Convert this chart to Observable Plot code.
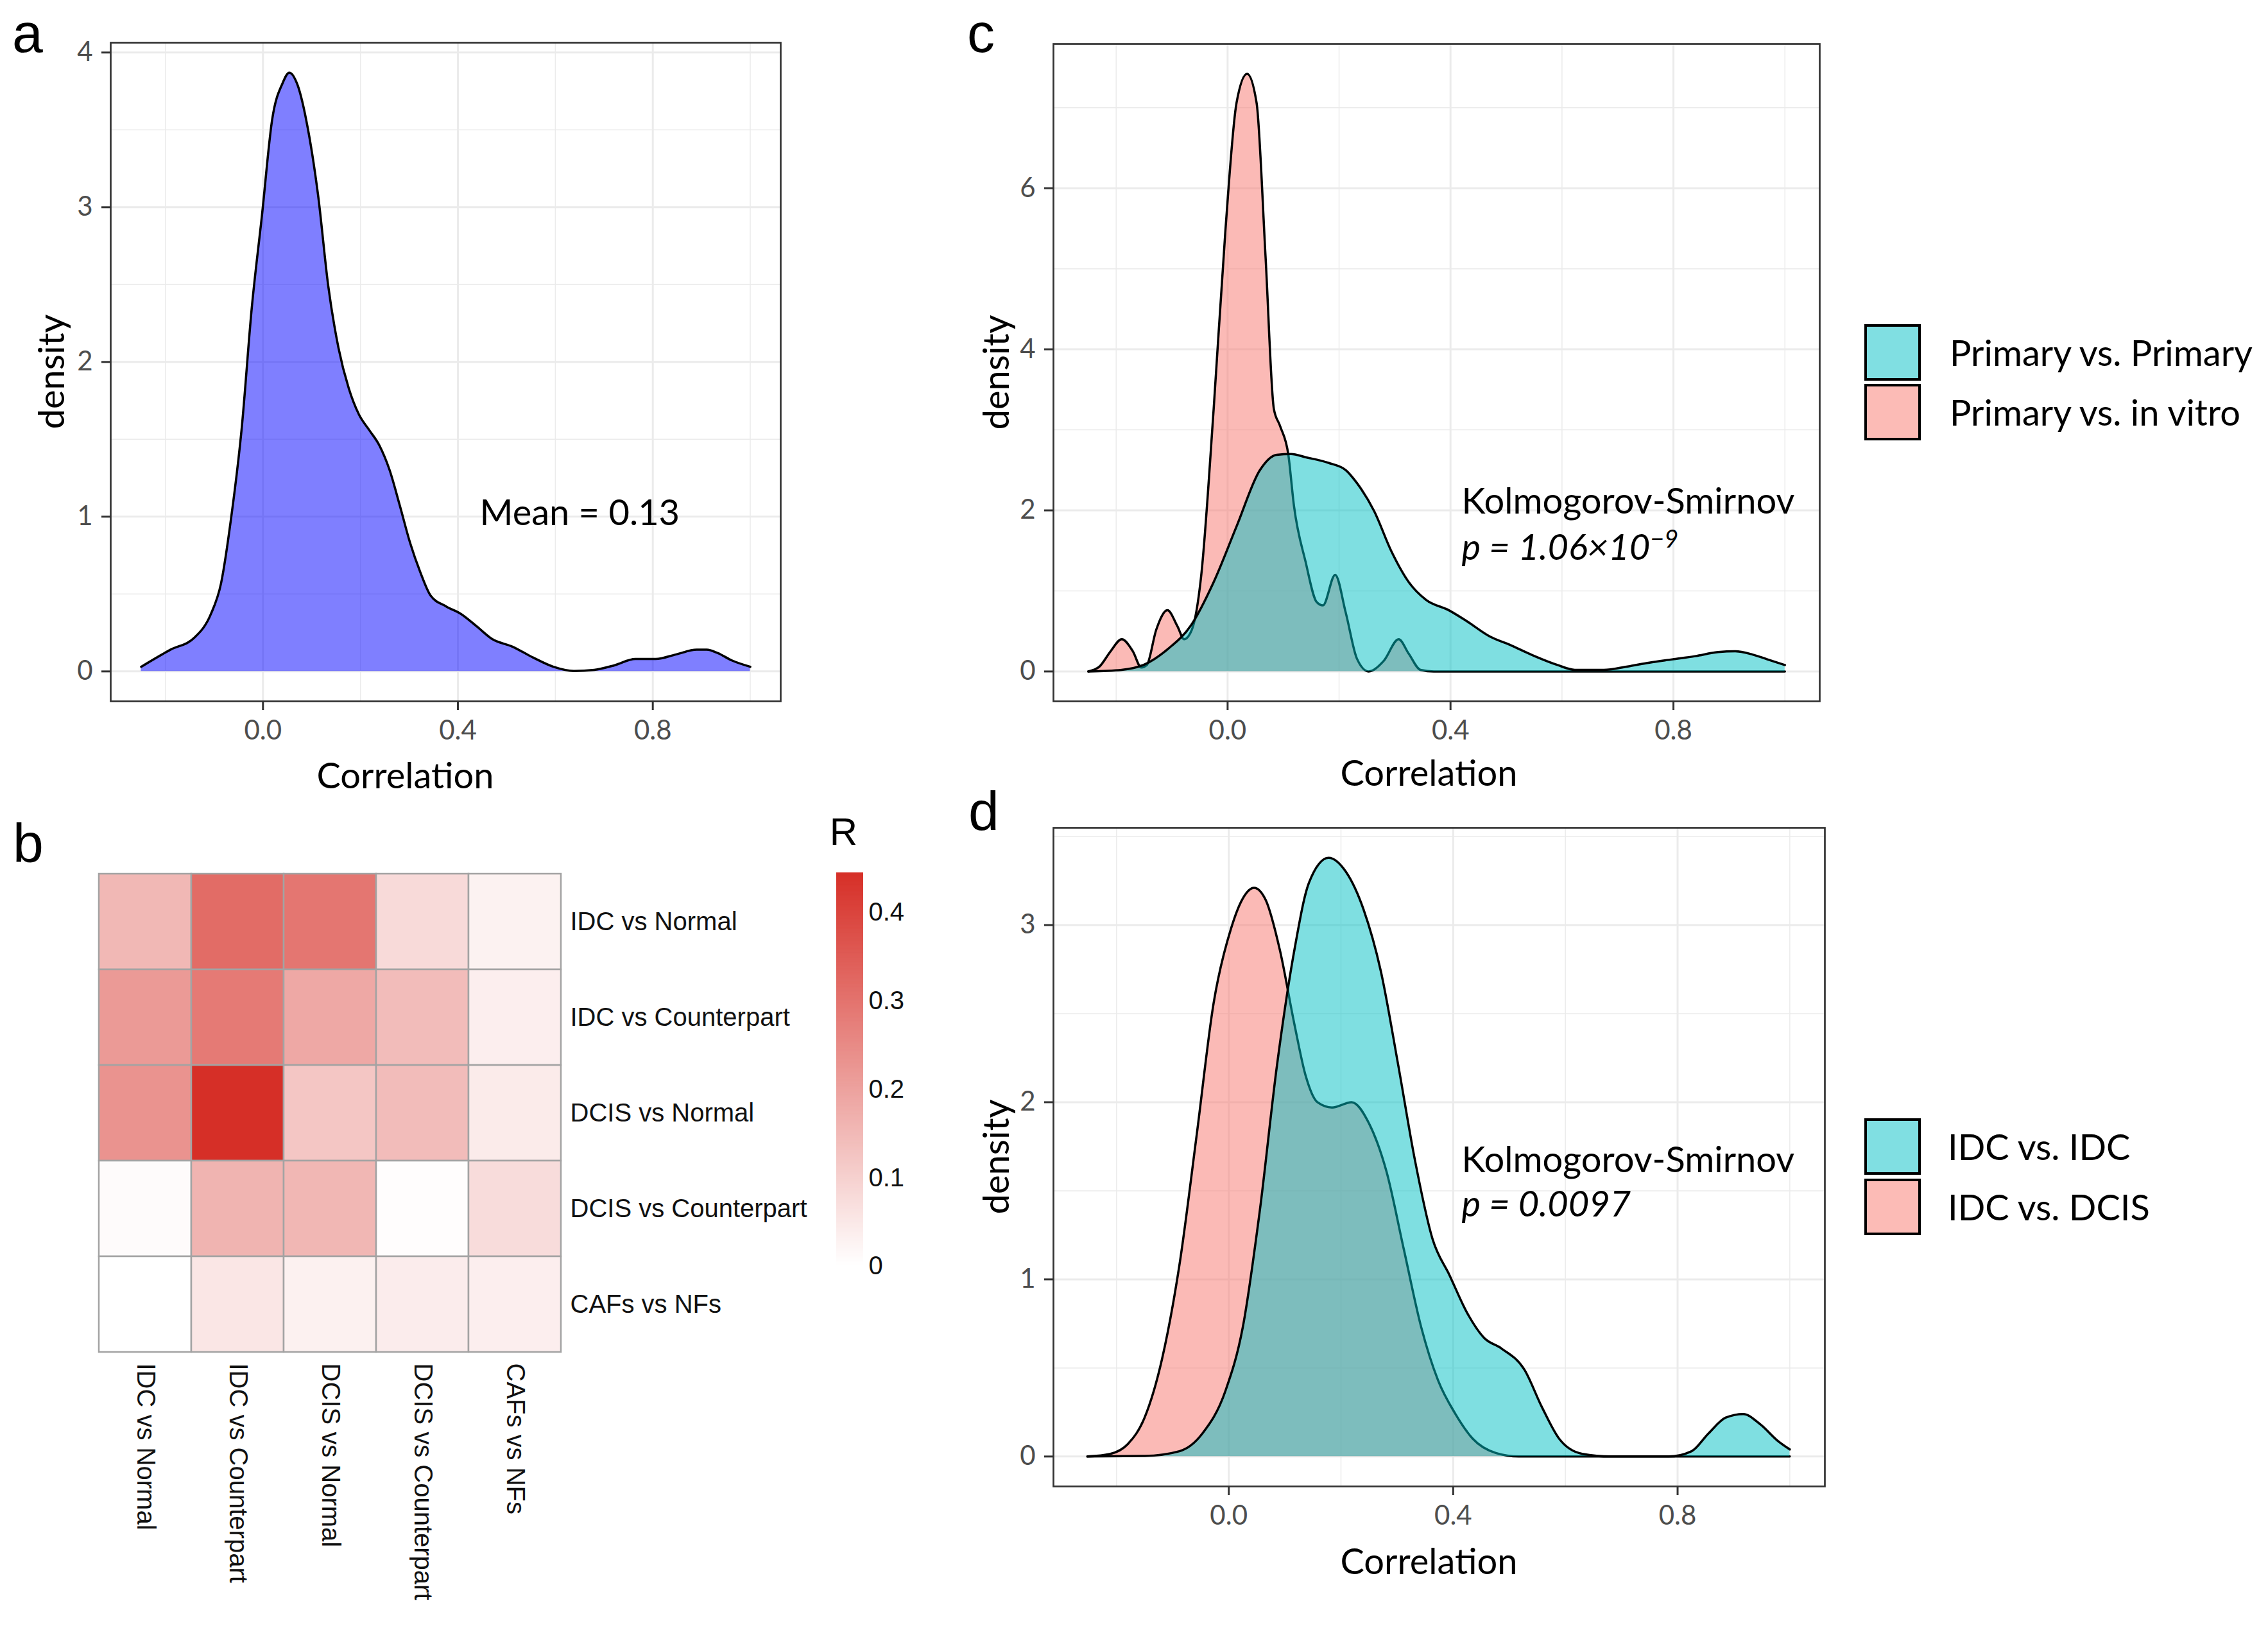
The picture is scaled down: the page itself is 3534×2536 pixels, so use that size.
<!DOCTYPE html>
<html><head><meta charset="utf-8">
<script src="https://cdn.jsdelivr.net/npm/d3@7"></script>
<script src="https://cdn.jsdelivr.net/npm/@observablehq/plot@0.6"></script>
<style>
html,body{margin:0;padding:0;background:#fff;}
#root{position:relative;width:3534px;height:2536px;background:#fff;overflow:hidden;font-family:Lato,sans-serif;}
#root svg{position:absolute;overflow:visible;max-width:none;background:transparent;}
.tag{position:absolute;font-family:"Liberation Sans",Arial,sans-serif;font-size:86px;line-height:normal;color:#000;}
.key{position:absolute;box-sizing:border-box;border:4px solid #000;width:88px;height:88px;}
.ltxt{position:absolute;font-family:Lato,sans-serif;font-size:56px;line-height:1;transform:translateY(-50%);white-space:nowrap;color:#000;}
.ytitle{position:absolute;font-family:Lato,sans-serif;font-size:56px;line-height:1;white-space:nowrap;color:#000;transform:translate(-50%,-50%) rotate(-90deg);}
</style></head><body><div id="root"></div>
<script>
// ---------- DATA ----------
// Panel a: density of all correlations
const xA = [-0.25,-0.19,-0.14,-0.107,-0.086,-0.065,-0.044,-0.023,-0.002,0.019,0.04,0.054,0.071,0.092,0.113,0.134,0.155,0.176,0.197,0.218,0.239,0.26,0.281,0.302,0.323,0.344,0.376,0.407,0.439,0.47,0.512,0.554,0.596,0.638,0.68,0.722,0.764,0.806,0.848,0.89,0.911,0.932,0.963,1.0];
const densA = [0.03,0.14,0.22,0.37,0.57,1.0,1.56,2.35,2.95,3.57,3.8,3.87,3.79,3.51,3.08,2.49,2.09,1.83,1.66,1.56,1.46,1.30,1.07,0.83,0.64,0.49,0.42,0.37,0.29,0.21,0.16,0.09,0.03,0.003,0.01,0.04,0.08,0.08,0.11,0.14,0.14,0.12,0.07,0.03];

// Panel c: Primary vs. in vitro (pink)
const xInVitro = [-0.25,-0.23,-0.21,-0.19,-0.17,-0.155,-0.145,-0.128,-0.108,-0.09,-0.078,-0.064,-0.048,-0.025,-0.004,0.016,0.035,0.052,0.068,0.083,0.094,0.109,0.119,0.14,0.16,0.171,0.193,0.212,0.232,0.253,0.28,0.307,0.325,0.346,0.37,0.6,1.0];
const densInVitro = [0,0.06,0.25,0.40,0.25,0.05,0.08,0.52,0.76,0.56,0.40,0.52,1.15,3.26,5.47,7.06,7.42,7.06,5.16,3.26,3.05,2.69,2.06,1.36,0.86,0.82,1.2,0.73,0.16,0,0.13,0.40,0.22,0.02,0,0,0];
// Panel c: Primary vs. Primary (cyan)
const xPrimary = [-0.25,-0.19,-0.148,-0.107,-0.066,-0.025,0.016,0.058,0.088,0.114,0.14,0.181,0.212,0.232,0.263,0.294,0.325,0.356,0.397,0.428,0.469,0.51,0.551,0.592,0.623,0.675,0.716,0.757,0.798,0.839,0.88,0.911,0.942,0.973,1.0];
const densPrimary = [0,0.02,0.09,0.28,0.57,1.11,1.8,2.5,2.69,2.70,2.66,2.59,2.5,2.34,1.99,1.49,1.11,0.89,0.76,0.63,0.44,0.32,0.19,0.08,0.02,0.02,0.06,0.11,0.15,0.19,0.24,0.25,0.21,0.14,0.08];

// Panel d: IDC vs. DCIS (pink)
const xIdcDcis = [-0.252,-0.211,-0.18,-0.15,-0.119,-0.088,-0.057,-0.027,0.004,0.025,0.045,0.066,0.091,0.117,0.137,0.158,0.184,0.219,0.25,0.281,0.312,0.343,0.373,0.404,0.435,0.476,0.517,0.7,1.0];
const densIdcDcis = [0,0.015,0.07,0.22,0.55,1.08,1.82,2.56,2.98,3.15,3.21,3.14,2.86,2.44,2.15,2.0,1.97,2.0,1.88,1.61,1.17,0.73,0.43,0.24,0.10,0.02,0,0,0];
// Panel d: IDC vs. IDC (cyan)
const xIdcIdc = [-0.252,-0.15,-0.088,-0.047,-0.006,0.025,0.055,0.086,0.117,0.143,0.178,0.209,0.24,0.271,0.302,0.332,0.363,0.394,0.425,0.455,0.486,0.527,0.558,0.589,0.63,0.681,0.784,0.825,0.855,0.886,0.917,0.948,0.978,1.0];
const densIdcIdc = [0,0.003,0.03,0.13,0.37,0.73,1.38,2.21,2.86,3.24,3.38,3.30,3.09,2.74,2.21,1.67,1.23,1.02,0.81,0.67,0.61,0.49,0.28,0.10,0.015,0,0,0.03,0.13,0.22,0.24,0.18,0.09,0.04];

// Panel b: heatmap
const hmRows = ["IDC vs Normal","IDC vs Counterpart","DCIS vs Normal","DCIS vs Counterpart","CAFs vs NFs"];
const hmCols = ["IDC vs Normal","IDC vs Counterpart","DCIS vs Normal","DCIS vs Counterpart","CAFs vs NFs"];
const hmValues = [
  [0.152,0.315,0.293,0.079,0.028],
  [0.216,0.285,0.186,0.143,0.036],
  [0.231,0.445,0.122,0.143,0.043],
  [0.008,0.160,0.155,0.005,0.075],
  [0.000,0.053,0.030,0.040,0.036]
];
const rTicks = [0,0.1,0.2,0.3,0.4];

// Axis ticks
const xMajor = [0,0.4,0.8];
const xMinor = [-0.2,0.2,0.6,1.0];
const yMajorA = [0,1,2,3,4], yMinorA = [0.5,1.5,2.5,3.5];
const yMajorC = [0,2,4,6],   yMinorC = [1,3,5,7];
const yMajorD = [0,1,2,3],   yMinorD = [0.5,1.5,2.5,3.5];

// Annotations
const annotA = [{label:"Mean = 0.13", x:0.65, y:1.02, italic:false}];
const annotC = [{label:"Kolmogorov-Smirnov", x:0.42, y:2.1, italic:false},{label:"p = 1.06×10^−9", x:0.42, y:1.53, italic:true}];
const annotD = [{label:"Kolmogorov-Smirnov", x:0.415, y:1.67, italic:false},{label:"p = 0.0097", x:0.415, y:1.42, italic:true}];

const legendC = ["Primary vs. Primary","Primary vs. in vitro"];
const legendD = ["IDC vs. IDC","IDC vs. DCIS"];

// ---------- STYLE ----------
const PINK = "#F8766D", CYAN = "#00BFC4", BLUE = "#0000FF";
const xDomain = [-0.3125, 1.0625];
const root = document.getElementById("root");

function place(svg, left, top){ svg.style.left = left+"px"; svg.style.top = top+"px"; root.appendChild(svg); }

function densityPanel(o){
  const ymax = d3.max(o.series.flatMap(s => s.y));
  const pad = 0.05*ymax;
  const marks = [
    Plot.gridX(xMinor, {stroke:"#EBEBEB", strokeOpacity:1, strokeWidth:1.5}),
    Plot.gridY(o.yMinor, {stroke:"#EBEBEB", strokeOpacity:1, strokeWidth:1.5}),
    Plot.gridX(xMajor, {stroke:"#EBEBEB", strokeOpacity:1, strokeWidth:3}),
    Plot.gridY(o.yMajor, {stroke:"#EBEBEB", strokeOpacity:1, strokeWidth:3})
  ];
  for (const s of o.series){
    const data = s.x.map((x,i)=>({x, y:s.y[i]}));
    marks.push(Plot.areaY(data, {x:"x", y:"y", fill:s.color, fillOpacity:0.5, curve:"monotone-x"}));
    marks.push(Plot.lineY(data, {x:"x", y:"y", stroke:"#000", strokeWidth:3.5, curve:"monotone-x"}));
  }
  marks.push(
    Plot.text(o.annot.filter(d => !d.italic), {x:"x", y:"y", text:"label", textAnchor:o.annotAnchor, fontSize:56, fill:"#000", fontFamily:"Lato"}),
    Plot.text(o.annot.filter(d => d.italic), {x:"x", y:"y", text:"label", textAnchor:o.annotAnchor, fontSize:56, fill:"#000", fontStyle:"italic", fontFamily:"Lato"}),
    Plot.axisX(xMajor, {tickSize:14, tickPadding:16, stroke:"#333", strokeWidth:3, fill:"#4D4D4D", fontSize:42, tickFormat:d3.format(".1f"), label:null}),
    Plot.axisY(o.yMajor, {tickSize:14, tickPadding:14, stroke:"#333", strokeWidth:3, fill:"#4D4D4D", fontSize:42, tickFormat:d3.format("d"), label:null}),
    Plot.text(["Correlation"], {frameAnchor:"bottom", dx:o.xLabelDx, dy:o.xLabelDy, text:d=>d, fontSize:56, fill:"#000", lineAnchor:"middle"}),
    Plot.frame({stroke:"#333", strokeWidth:2.7})
  );
  const svg = Plot.plot({
    width:o.width, height:o.height,
    marginLeft:o.mL, marginRight:o.mR, marginTop:o.mT, marginBottom:o.mB,
    x:{domain:xDomain}, y:{domain:[-pad, ymax+pad]},
    style:{fontFamily:"Lato", fontSize:"42px", background:"transparent", overflow:"visible"},
    marks
  });
  // superscript handling
  svg.querySelectorAll("text").forEach(t => {
    if (t.childElementCount === 0 && t.textContent.includes("^")){
      const [base, sup] = t.textContent.split("^");
      t.textContent = base;
      const ts = document.createElementNS("http://www.w3.org/2000/svg","tspan");
      ts.setAttribute("dy","-0.5em"); ts.setAttribute("font-size","38"); ts.textContent = sup;
      t.appendChild(ts);
    }
  });
  place(svg, o.left, o.top);
  // y-axis title (rotated), beside the panel
  const yt = document.createElement("div"); yt.className = "ytitle"; yt.textContent = "density";
  yt.style.left = (o.left + o.mL + o.yLabelDx) + "px";
  yt.style.top = (o.top + o.mT + (o.height - o.mT - o.mB)/2) + "px";
  root.appendChild(yt);
}

// Panel a
densityPanel({left:0, top:0, width:1300, height:1260, mL:172, mR:84, mT:66, mB:168,
  series:[{x:xA, y:densA, color:BLUE}], yMajor:yMajorA, yMinor:yMinorA,
  annot:annotA, annotAnchor:"middle", xLabelDx:-63, xLabelDy:118, yLabelDx:-93});
// Panel c
densityPanel({left:1450, top:0, width:1420, height:1260, mL:191, mR:35, mT:68, mB:168,
  series:[{x:xInVitro, y:densInVitro, color:PINK},{x:xPrimary, y:densPrimary, color:CYAN}],
  yMajor:yMajorC, yMinor:yMinorC, annot:annotC, annotAnchor:"start", xLabelDx:-12, xLabelDy:114, yLabelDx:-90});
// Panel d
densityPanel({left:1450, top:1200, width:1420, height:1336, mL:191, mR:27, mT:89, mB:221,
  series:[{x:xIdcDcis, y:densIdcDcis, color:PINK},{x:xIdcIdc, y:densIdcIdc, color:CYAN}],
  yMajor:yMajorD, yMinor:yMinorD, annot:annotD, annotAnchor:"start", xLabelDx:-16, xLabelDy:119, yLabelDx:-90});

// Panel b heatmap
const rMax = d3.max(hmValues.flat());
const colorOpts = {type:"linear", domain:[0, rMax], range:["#FFFFFF","#D62F27"]};
const cells = hmRows.flatMap((r,i)=>hmCols.map((c,j)=>({row:r, col:c, value:hmValues[i][j]})));
const hm = Plot.plot({
  width:1300, height:1286, marginLeft:153, marginRight:426, marginTop:109, marginBottom:429,
  x:{domain:hmCols, padding:0}, y:{domain:hmRows, padding:0},
  color:colorOpts,
  style:{fontFamily:"'Liberation Sans', Arial, sans-serif", fontSize:"40px", background:"transparent", overflow:"visible"},
  marks:[
    Plot.cell(cells, {x:"col", y:"row", fill:"value", stroke:"#A3A3A3", strokeWidth:2.5}),
    Plot.axisX({anchor:"bottom", tickRotate:90, tickSize:0, tickPadding:16, fontSize:40, fill:"#111", label:null}),
    Plot.axisY({anchor:"right", tickSize:0, tickPadding:14, fontSize:40, fill:"#111", label:null})
  ]
});
place(hm, 0, 1250);

// Color bar
const step = rMax/300;
const barSteps = d3.range(0, rMax, step);
const cbar = Plot.plot({
  width:250, height:800, marginLeft:53, marginRight:155, marginTop:109, marginBottom:78,
  x:{axis:null}, y:{domain:[0, rMax]},
  color:colorOpts,
  style:{fontFamily:"'Liberation Sans', Arial, sans-serif", fontSize:"40px", background:"transparent", overflow:"visible"},
  marks:[
    Plot.rect(barSteps, {y1:d=>d, y2:d=>Math.min(rMax, d+step*1.6), fill:d=>d}),
    Plot.axisY(rTicks, {anchor:"right", tickSize:0, tickPadding:8, fontSize:40, fill:"#111", label:null,
      tickFormat:d=> d===0 ? "0" : d.toFixed(1)}),
    Plot.text(["R"], {frameAnchor:"top-left", dx:11, dy:-63, text:d=>d, fontSize:60, fill:"#000", textAnchor:"middle", lineAnchor:"middle"})
  ]
});
place(cbar, 1250, 1250);

// Panel tags
[["a",19,2],["b",20,1264],["c",1507,2],["d",1509,1214]].forEach(([t,x,y])=>{
  const d = document.createElement("div"); d.className="tag"; d.textContent=t;
  d.style.left=x+"px"; d.style.top=y+"px"; root.appendChild(d);
});

// Legends (HTML, beside the panels)
function legend(labels, colors, keyX, keyTops, textX){
  labels.forEach((lab,i)=>{
    const k = document.createElement("div"); k.className="key";
    k.style.left=keyX+"px"; k.style.top=keyTops[i]+"px";
    k.style.background = d3.interpolateRgb("#FFFFFF", colors[i])(0.5);
    root.appendChild(k);
    const t = document.createElement("div"); t.className="ltxt"; t.textContent=lab;
    t.style.left=textX+"px"; t.style.top=(keyTops[i]+44)+"px"; root.appendChild(t);
  });
}
legend(legendC, [CYAN, PINK], 2905, [505, 598], 3038);
legend(legendD, [CYAN, PINK], 2905, [1742, 1836], 3035);
</script></body></html>
